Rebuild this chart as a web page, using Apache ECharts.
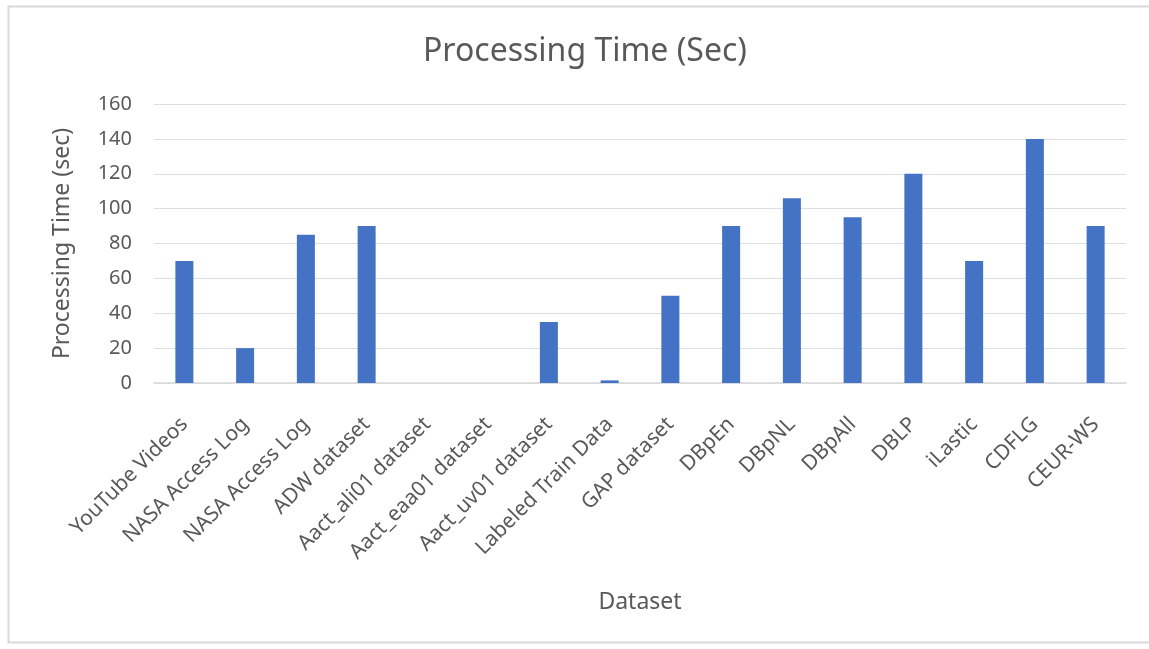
<!DOCTYPE html>
<html><head><meta charset="utf-8">
<script src="https://cdn.jsdelivr.net/npm/echarts@6/dist/echarts.min.js"></script>
<style>html,body{margin:0;padding:0;background:#fff}#c{width:1149px;height:649px}</style>
</head><body><div id="c"></div>
<script>
const categories = ["YouTube Videos","NASA Access Log","NASA Access Log","ADW dataset","Aact_ali01 dataset","Aact_eaa01 dataset","Aact_uv01 dataset","Labeled Train Data","GAP dataset","DBpEn","DBpNL","DBpAll","DBLP","iLastic","CDFLG","CEUR-WS"];
const processingTime = [70,20,85,90,0,0,35,1.5,50,90,106,95,120,70,140,90];
const yTicks = {min:0, max:160, interval:20};

const chart = echarts.init(document.getElementById('c'), null, {renderer:'canvas'});
const txt = '#595959';
const font = 'Noto Sans';
chart.setOption({
  animation:false,
  backgroundColor:'#fff',
  graphic:[{type:'rect', shape:{x:8.5,y:6.5,width:1160,height:636}, style:{fill:'none',stroke:'#d9d9d9',lineWidth:2}, silent:true}],
  title:{text:'Processing Time (Sec)', left:418, top:31, textStyle:{fontFamily:font,fontSize:32,fontWeight:'normal',color:txt}},
  grid:{left:154,right:23,top:104,bottom:266,containLabel:false},
  xAxis:{type:'category', data:categories, name:'Dataset', nameLocation:'middle', nameGap:208,
    nameTextStyle:{fontFamily:font,fontSize:23,color:txt},
    axisLine:{lineStyle:{color:'#d9d9d9',width:1.5}}, axisTick:{show:false},
    axisLabel:{interval:0, rotate:45, margin:38, fontFamily:font, fontSize:21, color:txt}},
  yAxis:{type:'value', min:yTicks.min, max:yTicks.max, interval:yTicks.interval,
    name:'Processing Time (sec)', nameLocation:'middle', nameGap:80, nameRotate:90,
    nameTextStyle:{fontFamily:font,fontSize:23,color:txt},
    axisLine:{show:false}, axisTick:{show:false},
    axisLabel:{margin:22, fontFamily:font, fontSize:20, color:txt}},
  series:[{type:'bar', data:processingTime, barWidth:18, itemStyle:{color:'#4472c4'}}]
});
</script></body></html>
